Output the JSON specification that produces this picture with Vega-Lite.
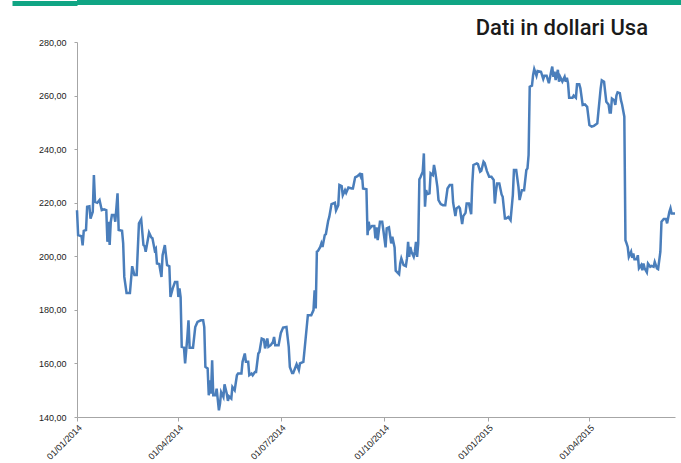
{
  "$schema": "https://vega.github.io/schema/vega-lite/v6.json",
  "background": "white",
  "padding": {"left": 9, "top": 0, "right": 0, "bottom": 0},
  "spacing": 11,
  "columns": 1,
  "config": {"view": {"stroke": null}},
  "concat": [
    {
      "width": 604,
      "height": 5,
      "view": {"fill": "#10A584", "stroke": null},
      "data": {"values": []},
      "mark": "point",
      "encoding": {
        "y": {
          "field": "v",
          "type": "quantitative",
          "scale": {"domain": [0, 1]},
          "axis": {
            "title": null,
            "values": [0.5],
            "labels": false,
            "domain": false,
            "grid": false,
            "tickSize": 65,
            "tickWidth": 5,
            "tickColor": "#10A584"
          }
        }
      }
    },
    {
      "width": 598,
      "height": 375,
      "title": {
        "text": "Dati in dollari Usa",
        "anchor": "end",
        "frame": "group",
        "fontSize": 22,
        "font": "Roboto, sans-serif",
        "fontWeight": 500,
        "color": "#1a1a1a",
        "dx": -27,
        "offset": -2
      },
      "data": {
        "values": [
          {"d":"2014-01-01","v":217.2},{"d":"2014-01-02","v":207.9},{"d":"2014-01-05","v":207.5},{"d":"2014-01-06","v":204.1},
          {"d":"2014-01-07","v":209.5},{"d":"2014-01-09","v":209.8},{"d":"2014-01-10","v":218.5},{"d":"2014-01-12","v":218.7},
          {"d":"2014-01-13","v":214.1},{"d":"2014-01-15","v":216.6},{"d":"2014-01-16","v":230.3},{"d":"2014-01-17","v":220.3},
          {"d":"2014-01-19","v":220},{"d":"2014-01-21","v":221},{"d":"2014-01-23","v":217.2},{"d":"2014-01-25","v":217.5},
          {"d":"2014-01-27","v":217.2},{"d":"2014-01-28","v":205.4},{"d":"2014-01-29","v":212.9},{"d":"2014-01-30","v":204.2},
          {"d":"2014-01-31","v":212.9},{"d":"2014-02-01","v":215.4},{"d":"2014-02-03","v":215.4},{"d":"2014-02-04","v":212.9},
          {"d":"2014-02-06","v":223.5},{"d":"2014-02-07","v":209.8},{"d":"2014-02-10","v":209.5},{"d":"2014-02-11","v":204.8},
          {"d":"2014-02-12","v":192.3},{"d":"2014-02-14","v":186.3},{"d":"2014-02-17","v":186.3},{"d":"2014-02-19","v":196.3},
          {"d":"2014-02-21","v":193},{"d":"2014-02-23","v":193},{"d":"2014-02-25","v":212.3},{"d":"2014-02-27","v":213.8},
          {"d":"2014-03-01","v":204.2},{"d":"2014-03-02","v":203.8},{"d":"2014-03-03","v":201.7},{"d":"2014-03-06","v":208.8},
          {"d":"2014-03-08","v":207},{"d":"2014-03-09","v":206.7},{"d":"2014-03-11","v":202.3},{"d":"2014-03-12","v":202.9},
          {"d":"2014-03-13","v":197.3},{"d":"2014-03-15","v":197.1},{"d":"2014-03-17","v":192.3},{"d":"2014-03-18","v":200.4},
          {"d":"2014-03-20","v":204.2},{"d":"2014-03-22","v":196.7},{"d":"2014-03-24","v":196.3},{"d":"2014-03-25","v":184.8},
          {"d":"2014-03-27","v":188},{"d":"2014-03-29","v":190.4},{"d":"2014-03-31","v":190.4},{"d":"2014-04-01","v":184.8},
          {"d":"2014-04-02","v":188},{"d":"2014-04-03","v":184.8},{"d":"2014-04-04","v":166.2},{"d":"2014-04-06","v":165.9},
          {"d":"2014-04-07","v":160},{"d":"2014-04-09","v":169.9},{"d":"2014-04-10","v":176.1},{"d":"2014-04-11","v":165.9},
          {"d":"2014-04-14","v":165.9},{"d":"2014-04-16","v":173.6},{"d":"2014-04-18","v":175.5},{"d":"2014-04-21","v":176.1},
          {"d":"2014-04-23","v":176.1},{"d":"2014-04-24","v":173.6},{"d":"2014-04-25","v":158.7},{"d":"2014-04-27","v":158.1},
          {"d":"2014-04-28","v":148.1},{"d":"2014-04-29","v":153.7},{"d":"2014-04-30","v":148.7},{"d":"2014-05-01","v":161.2},
          {"d":"2014-05-02","v":148.1},{"d":"2014-05-04","v":148.1},{"d":"2014-05-05","v":150.6},{"d":"2014-05-07","v":142.5},
          {"d":"2014-05-08","v":145},{"d":"2014-05-09","v":149.3},{"d":"2014-05-11","v":147.5},{"d":"2014-05-12","v":152.2},
          {"d":"2014-05-14","v":148.7},{"d":"2014-05-15","v":146},{"d":"2014-05-16","v":147.7},{"d":"2014-05-18","v":146.9},
          {"d":"2014-05-19","v":151.2},{"d":"2014-05-21","v":150},{"d":"2014-05-23","v":155.6},{"d":"2014-05-24","v":156.2},
          {"d":"2014-05-27","v":156.2},{"d":"2014-05-28","v":160.6},{"d":"2014-05-30","v":163.7},{"d":"2014-05-31","v":160.6},
          {"d":"2014-06-02","v":160.6},{"d":"2014-06-03","v":155.6},{"d":"2014-06-05","v":156.2},{"d":"2014-06-06","v":155.6},
          {"d":"2014-06-08","v":156.8},{"d":"2014-06-09","v":156.8},{"d":"2014-06-11","v":163.7},{"d":"2014-06-12","v":164.3},
          {"d":"2014-06-14","v":169.3},{"d":"2014-06-16","v":168.9},{"d":"2014-06-17","v":165.6},{"d":"2014-06-19","v":169.3},
          {"d":"2014-06-20","v":166.2},{"d":"2014-06-22","v":166.8},{"d":"2014-06-24","v":168},{"d":"2014-06-25","v":169.9},
          {"d":"2014-06-26","v":166.8},{"d":"2014-06-29","v":166.8},{"d":"2014-07-01","v":171.4},{"d":"2014-07-03","v":173.4},
          {"d":"2014-07-06","v":173.6},{"d":"2014-07-08","v":166.2},{"d":"2014-07-09","v":158.7},{"d":"2014-07-11","v":156.4},
          {"d":"2014-07-12","v":156.4},{"d":"2014-07-15","v":159.7},{"d":"2014-07-17","v":157.5},{"d":"2014-07-18","v":160},
          {"d":"2014-07-21","v":160.6},{"d":"2014-07-22","v":164.9},{"d":"2014-07-24","v":173.6},{"d":"2014-07-25","v":178},
          {"d":"2014-07-28","v":178},{"d":"2014-07-30","v":179.9},{"d":"2014-07-31","v":187.3},{"d":"2014-08-01","v":180.5},
          {"d":"2014-08-02","v":201.7},{"d":"2014-08-03","v":202},{"d":"2014-08-05","v":203.5},{"d":"2014-08-06","v":204.8},
          {"d":"2014-08-07","v":203.5},{"d":"2014-08-09","v":207.9},{"d":"2014-08-10","v":208.3},{"d":"2014-08-12","v":213.2},
          {"d":"2014-08-13","v":214.7},{"d":"2014-08-15","v":219.5},{"d":"2014-08-18","v":220},{"d":"2014-08-19","v":217.2},
          {"d":"2014-08-21","v":219.1},{"d":"2014-08-22","v":226.6},{"d":"2014-08-24","v":226.2},{"d":"2014-08-25","v":222.8},
          {"d":"2014-08-27","v":224.7},{"d":"2014-08-28","v":223.7},{"d":"2014-08-30","v":225.7},{"d":"2014-09-02","v":225.3},
          {"d":"2014-09-03","v":225.3},{"d":"2014-09-05","v":229.5},{"d":"2014-09-07","v":229.9},{"d":"2014-09-09","v":230.7},
          {"d":"2014-09-10","v":229.7},{"d":"2014-09-11","v":231},{"d":"2014-09-12","v":225.3},{"d":"2014-09-15","v":225},
          {"d":"2014-09-16","v":207.9},{"d":"2014-09-17","v":212.9},{"d":"2014-09-18","v":210.4},{"d":"2014-09-20","v":211.3},
          {"d":"2014-09-22","v":211.3},{"d":"2014-09-23","v":206.7},{"d":"2014-09-24","v":210.8},{"d":"2014-09-25","v":206},
          {"d":"2014-09-27","v":212.9},{"d":"2014-09-29","v":212.9},{"d":"2014-09-30","v":209.8},{"d":"2014-10-02","v":203.3},
          {"d":"2014-10-03","v":210.4},{"d":"2014-10-05","v":210.8},{"d":"2014-10-07","v":204.8},{"d":"2014-10-08","v":207.3},
          {"d":"2014-10-10","v":203.3},{"d":"2014-10-11","v":194.6},{"d":"2014-10-12","v":194.2},{"d":"2014-10-14","v":193.3},
          {"d":"2014-10-15","v":197.3},{"d":"2014-10-16","v":199.2},{"d":"2014-10-18","v":196.7},{"d":"2014-10-20","v":196.3},
          {"d":"2014-10-21","v":199.2},{"d":"2014-10-22","v":205.4},{"d":"2014-10-23","v":199.8},{"d":"2014-10-24","v":203.5},
          {"d":"2014-10-25","v":201.7},{"d":"2014-10-27","v":199.8},{"d":"2014-10-28","v":201.7},{"d":"2014-10-29","v":205.4},
          {"d":"2014-10-30","v":199.8},{"d":"2014-10-31","v":204.8},{"d":"2014-11-01","v":228.7},{"d":"2014-11-02","v":229.5},
          {"d":"2014-11-04","v":231.6},{"d":"2014-11-05","v":238.4},{"d":"2014-11-06","v":218.5},{"d":"2014-11-07","v":224.7},
          {"d":"2014-11-08","v":223.2},{"d":"2014-11-10","v":223.5},{"d":"2014-11-11","v":231},{"d":"2014-11-13","v":230.3},
          {"d":"2014-11-14","v":234.1},{"d":"2014-11-15","v":231.9},{"d":"2014-11-17","v":225.9},{"d":"2014-11-18","v":221},
          {"d":"2014-11-20","v":219.5},{"d":"2014-11-22","v":219.1},{"d":"2014-11-24","v":219.1},{"d":"2014-11-26","v":225.3},
          {"d":"2014-11-28","v":226.6},{"d":"2014-11-30","v":226.6},{"d":"2014-12-01","v":220},{"d":"2014-12-03","v":215},
          {"d":"2014-12-04","v":217.9},{"d":"2014-12-06","v":218.5},{"d":"2014-12-07","v":217.9},{"d":"2014-12-09","v":212},
          {"d":"2014-12-10","v":215},{"d":"2014-12-12","v":216.2},{"d":"2014-12-13","v":219.7},{"d":"2014-12-15","v":219.7},
          {"d":"2014-12-17","v":215.7},{"d":"2014-12-18","v":227.2},{"d":"2014-12-19","v":234.1},{"d":"2014-12-22","v":234.7},
          {"d":"2014-12-23","v":234.4},{"d":"2014-12-25","v":231.6},{"d":"2014-12-26","v":231.9},{"d":"2014-12-28","v":235.3},
          {"d":"2014-12-29","v":234.8},{"d":"2014-12-31","v":231.8},{"d":"2015-01-02","v":229.7},{"d":"2015-01-04","v":229.7},
          {"d":"2015-01-06","v":228.5},{"d":"2015-01-07","v":219.7},{"d":"2015-01-08","v":224.1},{"d":"2015-01-09","v":227.2},
          {"d":"2015-01-11","v":227.2},{"d":"2015-01-13","v":223.1},{"d":"2015-01-14","v":222.2},{"d":"2015-01-16","v":214.1},
          {"d":"2015-01-17","v":214.1},{"d":"2015-01-19","v":214.7},{"d":"2015-01-21","v":213.5},{"d":"2015-01-23","v":222.8},
          {"d":"2015-01-24","v":232.2},{"d":"2015-01-26","v":232.2},{"d":"2015-01-28","v":225.9},{"d":"2015-01-29","v":221},
          {"d":"2015-01-31","v":224.7},{"d":"2015-02-02","v":224.7},{"d":"2015-02-04","v":232.2},{"d":"2015-02-05","v":232.8},
          {"d":"2015-02-06","v":237.8},{"d":"2015-02-07","v":263.3},{"d":"2015-02-09","v":263.7},{"d":"2015-02-10","v":267.7},
          {"d":"2015-02-11","v":269.9},{"d":"2015-02-13","v":267.4},{"d":"2015-02-14","v":269.2},{"d":"2015-02-17","v":268.9},
          {"d":"2015-02-19","v":266.2},{"d":"2015-02-20","v":267.4},{"d":"2015-02-22","v":267.4},{"d":"2015-02-24","v":264.6},
          {"d":"2015-02-26","v":268.9},{"d":"2015-02-27","v":270.8},{"d":"2015-02-28","v":267},{"d":"2015-03-01","v":268.9},
          {"d":"2015-03-02","v":265.8},{"d":"2015-03-04","v":269.6},{"d":"2015-03-05","v":265.2},{"d":"2015-03-06","v":267},
          {"d":"2015-03-08","v":265.2},{"d":"2015-03-10","v":267},{"d":"2015-03-11","v":265.2},{"d":"2015-03-12","v":266.7},
          {"d":"2015-03-13","v":264.6},{"d":"2015-03-14","v":259.2},{"d":"2015-03-17","v":259.2},{"d":"2015-03-18","v":260},
          {"d":"2015-03-20","v":259.2},{"d":"2015-03-21","v":264.2},{"d":"2015-03-23","v":264.2},{"d":"2015-03-24","v":262.7},
          {"d":"2015-03-26","v":256.5},{"d":"2015-03-28","v":256.7},{"d":"2015-03-30","v":255.8},{"d":"2015-04-01","v":249},
          {"d":"2015-04-03","v":248.4},{"d":"2015-04-05","v":248.7},{"d":"2015-04-08","v":249.6},{"d":"2015-04-09","v":254},
          {"d":"2015-04-11","v":262.7},{"d":"2015-04-12","v":265.7},{"d":"2015-04-14","v":265.2},{"d":"2015-04-15","v":261.4},
          {"d":"2015-04-16","v":257.7},{"d":"2015-04-18","v":256.7},{"d":"2015-04-19","v":253.7},{"d":"2015-04-20","v":253.7},
          {"d":"2015-04-21","v":258.9},{"d":"2015-04-23","v":258.3},{"d":"2015-04-24","v":256.5},{"d":"2015-04-25","v":260},
          {"d":"2015-04-26","v":261.2},{"d":"2015-04-28","v":260.9},{"d":"2015-04-29","v":258.3},{"d":"2015-04-30","v":256.7},
          {"d":"2015-05-02","v":252.1},{"d":"2015-05-03","v":206},{"d":"2015-05-04","v":204.8},{"d":"2015-05-05","v":203.5},
          {"d":"2015-05-06","v":199.8},{"d":"2015-05-08","v":201.7},{"d":"2015-05-09","v":199.4},{"d":"2015-05-10","v":201},
          {"d":"2015-05-11","v":198.9},{"d":"2015-05-13","v":198.9},{"d":"2015-05-14","v":200.4},{"d":"2015-05-15","v":195.5},
          {"d":"2015-05-17","v":196.7},{"d":"2015-05-18","v":194.8},{"d":"2015-05-19","v":197.3},{"d":"2015-05-20","v":195.5},
          {"d":"2015-05-22","v":194},{"d":"2015-05-23","v":197.3},{"d":"2015-05-25","v":196.1},{"d":"2015-05-26","v":196.4},
          {"d":"2015-05-28","v":196.1},{"d":"2015-05-29","v":197.9},{"d":"2015-05-31","v":195.5},{"d":"2015-06-01","v":195.2},
          {"d":"2015-06-03","v":201.7},{"d":"2015-06-04","v":212.9},{"d":"2015-06-06","v":213.9},{"d":"2015-06-08","v":213.9},
          {"d":"2015-06-09","v":212.3},{"d":"2015-06-11","v":216.6},{"d":"2015-06-12","v":217.9},{"d":"2015-06-13","v":216},
          {"d":"2015-06-14","v":216},{"d":"2015-06-16","v":216}
        ]
      },
      "mark": {"type": "line", "color": "#4A7EBB", "strokeWidth": 2.5, "interpolate": "linear"},
      "encoding": {
        "x": {
          "field": "d",
          "type": "temporal",
          "scale": {
            "type": "utc",
            "domain": [
              {"year": 2014, "month": 1, "date": 1, "utc": true},
              {"year": 2015, "month": 6, "date": 16, "utc": true}
            ]
          },
          "axis": {
            "title": null,
            "grid": false,
            "format": "%d/%m/%Y",
            "values": [
              {"year": 2014, "month": 1, "date": 1, "utc": true},
              {"year": 2014, "month": 4, "date": 1, "utc": true},
              {"year": 2014, "month": 7, "date": 1, "utc": true},
              {"year": 2014, "month": 10, "date": 1, "utc": true},
              {"year": 2015, "month": 1, "date": 1, "utc": true},
              {"year": 2015, "month": 4, "date": 1, "utc": true}
            ],
            "labelAngle": -45,
            "labelAlign": "right",
            "labelBaseline": "top",
            "labelFont": "Liberation Sans",
            "labelFontSize": 9,
            "labelColor": "#222222",
            "labelPadding": 2,
            "domainColor": "#a6a6a6",
            "tickColor": "#a6a6a6",
            "tickSize": 4
          }
        },
        "y": {
          "field": "v",
          "type": "quantitative",
          "scale": {"domain": [140, 280], "nice": false, "zero": false},
          "axis": {
            "title": null,
            "grid": false,
            "values": [140, 160, 180, 200, 220, 240, 260, 280],
            "labelExpr": "replace(format(datum.value, '.2f'), '.', ',')",
            "labelFont": "Liberation Sans",
            "labelFontSize": 9,
            "labelColor": "#222222",
            "labelPadding": 8,
            "domainColor": "#a6a6a6",
            "tickColor": "#a6a6a6",
            "tickSize": 3
          }
        }
      }
    }
  ]
}
